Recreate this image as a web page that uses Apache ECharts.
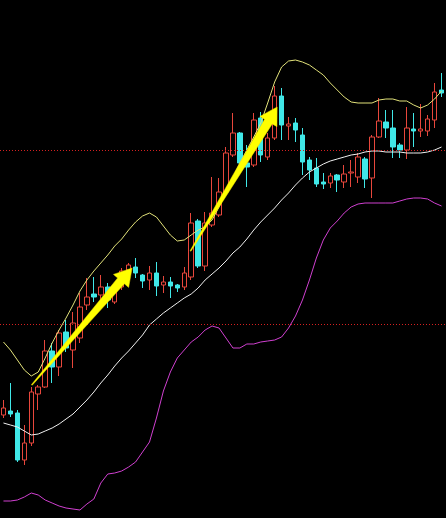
<!DOCTYPE html>
<html>
<head>
<meta charset="utf-8">
<script src="https://cdn.jsdelivr.net/npm/echarts@6/dist/echarts.min.js"></script>
<style>
  html, body { margin: 0; padding: 0; background: #000; }
  #kline { width: 446px; height: 518px; }
</style>
</head>
<body>
<div id="kline"></div>
<script>
// 64 trading days, labels are not shown on the picture
const days = Array.from({ length: 64 }, (_, i) => 'D' + (i + 1))

// [open, close, lowest, highest]
const kline = [
  [103, 110, 100, 118], [107, 104, 101, 135], [105, 58, 56, 108], [58, 75, 53, 93],
  [75, 126, 72, 131], [124, 131, 108, 133], [131, 167, 130, 178], [167, 151, 135, 175],
  [151, 185, 142, 188], [186, 170, 166, 198], [168, 195, 150, 206], [180, 211, 175, 225],
  [213, 221, 208, 240], [224, 221, 216, 241], [223, 231, 218, 243], [231, 218, 210, 235],
  [216, 229, 214, 235], [231, 247, 228, 250], [248, 253, 246, 255], [251, 245, 240, 260],
  [243, 237, 230, 244], [238, 245, 228, 252], [245, 232, 222, 256], [233, 236, 225, 242],
  [236, 232, 220, 241], [233, 230, 226, 234], [231, 245, 228, 251], [241, 295, 238, 305],
  [297, 252, 250, 299], [252, 295, 247, 306], [293, 305, 291, 341], [303, 326, 301, 340],
  [326, 365, 323, 371], [363, 385, 361, 405], [385, 355, 353, 386], [355, 351, 331, 373],
  [353, 398, 351, 405], [400, 363, 356, 406], [361, 380, 358, 385], [380, 422, 378, 432],
  [422, 393, 378, 430], [392, 394, 378, 401], [395, 388, 376, 400], [383, 356, 343, 390],
  [358, 348, 338, 361], [350, 334, 331, 360], [336, 334, 329, 345], [335, 342, 330, 345],
  [343, 338, 326, 344], [336, 344, 330, 353], [345, 346, 331, 358], [341, 361, 335, 365],
  [359, 339, 330, 361], [340, 381, 320, 383], [381, 397, 380, 420], [396, 390, 380, 408],
  [390, 371, 360, 408], [373, 368, 360, 375], [368, 390, 359, 411], [389, 387, 371, 405],
  [387, 389, 381, 414], [387, 399, 382, 403], [398, 426, 390, 435], [428, 425, 421, 445]
]

// 布林带 上轨 / 中轨 / 下轨
const upper = [
  176, 168, 158, 148, 142, 146, 160, 175, 188, 200, 213, 227, 238, 247, 255, 263,
  272, 279, 288, 296, 302, 305, 301, 292, 283, 277, 278, 283, 288, 291, 298, 311,
  325, 340, 355, 368, 381, 395, 415, 436, 451, 457, 458, 456, 453, 448, 443, 435,
  428, 421, 416, 415, 415, 415, 418, 419, 419, 417, 417, 413, 410, 413, 419, 427
]
const middle = [
  95, 93, 91, 87, 83, 84, 87, 90, 94, 99, 104, 111, 118, 126, 135, 143,
  152, 160, 167, 175, 183, 193, 199, 205, 210, 215, 220, 224, 230, 238, 244, 250,
  257, 265, 271, 279, 288, 296, 303, 310, 318, 325, 333, 340, 346, 350, 354, 357,
  359, 361, 363, 364, 366, 367, 367, 366, 366, 366, 365, 365, 365, 366, 368, 371
]
const lower = [
  17, 17, 18, 21, 25, 23, 18, 15, 12, 10, 9, 8, 14, 19, 35, 44,
  45, 47, 51, 56, 66, 76, 100, 127, 146, 160, 168, 176, 181, 188, 192, 190,
  180, 170, 170, 174, 174, 176, 177, 178, 181, 190, 202, 218, 238, 260, 278, 290,
  297, 305, 311, 314, 315, 315, 315, 315, 315, 317, 319, 320, 320, 319, 315, 312
]

// 参考线
const refLevels = [367.5, 193.5]

// 箭头 [起点序号, 起点价, 终点序号, 终点价]
const arrows = [
  [4.07, 133, 18.5, 250],
  [26.9, 267, 39.36, 411]
]

function renderArrow(params, api) {
  const p0 = api.coord([api.value(0), api.value(1)])
  const p1 = api.coord([api.value(2), api.value(3)])
  const dx = p1[0] - p0[0]
  const dy = p1[1] - p0[1]
  const len = Math.sqrt(dx * dx + dy * dy)
  const ux = dx / len, uy = dy / len
  const nx = -uy, ny = ux
  const tail = 1, shaft = 9, head = 20, headLen = 17
  const bx = p1[0] - ux * headLen, by = p1[1] - uy * headLen
  const points = [
    [p0[0] + nx * tail / 2, p0[1] + ny * tail / 2],
    [bx + nx * shaft / 2, by + ny * shaft / 2],
    [bx + nx * head / 2, by + ny * head / 2],
    p1,
    [bx - nx * head / 2, by - ny * head / 2],
    [bx - nx * shaft / 2, by - ny * shaft / 2],
    [p0[0] - nx * tail / 2, p0[1] - ny * tail / 2]
  ]
  return {
    type: 'polygon',
    shape: { points: points },
    style: { fill: '#ffff00', stroke: '#f0e000', lineWidth: 0.5 }
  }
}

const chart = echarts.init(document.getElementById('kline'))
const option = {
  backgroundColor: '#000',
  animation: false,
  grid: { left: -3, right: 1, top: 0, bottom: 0 },
  xAxis: [
    { type: 'category', data: days, show: false, boundaryGap: true },
    { type: 'value', min: -0.5, max: 63.5, show: false }
  ],
  yAxis: { type: 'value', min: 0, max: 518, show: false, splitLine: { show: false } },
  series: [
    {
      type: 'candlestick',
      data: kline,
      barWidth: 5,
      itemStyle: {
        color: '#000',
        color0: '#40e8e8',
        borderColor: '#e8473c',
        borderColor0: '#40e8e8',
        borderWidth: 1
      },
      markLine: {
        silent: true,
        symbol: ['none', 'none'],
        label: { show: false },
        lineStyle: { type: [1, 2], color: '#d42020', width: 1, opacity: 1 },
        data: refLevels.map(v => ({ yAxis: v }))
      }
    },
    {
      name: 'UPPER', type: 'line', data: upper, symbol: 'none',
      lineStyle: { color: '#e2e27a', width: 1 }
    },
    {
      name: 'MID', type: 'line', data: middle, symbol: 'none',
      lineStyle: { color: '#f0f0f0', width: 1 }
    },
    {
      name: 'LOWER', type: 'line', data: lower, symbol: 'none',
      lineStyle: { color: '#d040d0', width: 1 }
    },
    {
      type: 'custom',
      xAxisIndex: 1,
      data: arrows,
      encode: { x: [0, 2], y: [1, 3] },
      renderItem: renderArrow,
      z: 10
    }
  ]
}
chart.setOption(option)
</script>
</body>
</html>
